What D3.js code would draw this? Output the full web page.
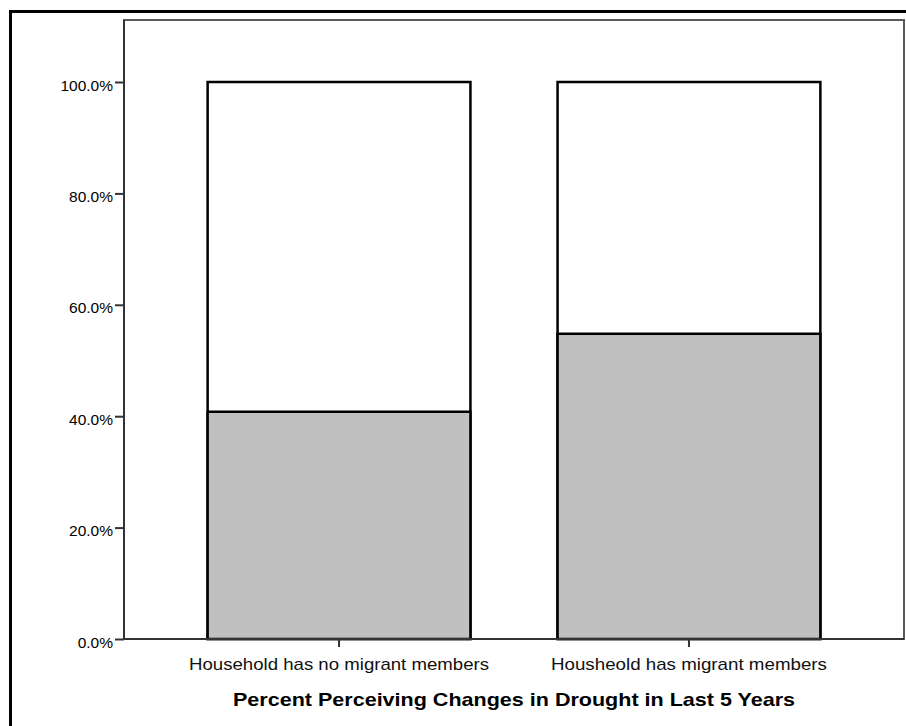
<!DOCTYPE html>
<html>
<head>
<meta charset="utf-8">
<script src="https://cdn.jsdelivr.net/npm/d3@7"></script>
<style>
  html, body { margin: 0; padding: 0; background: #fff; }
  svg { display: block; font-family: Arial, "Liberation Sans", sans-serif; }
</style>
</head>
<body>
<svg id="chart" width="906" height="726"></svg>
<script>
const categories = ["Household has no migrant members", "Housheold has migrant members"];
const perceivedValues = [40.8, 54.8];
const totalValues = [100, 100];
const yTickValues = [0, 20, 40, 60, 80, 100];
const xAxisTitle = "Percent Perceiving Changes in Drought in Last 5 Years";

const svg = d3.select("#chart");
const plot = { left: 124, right: 904, top: 20, bottom: 639 };

// outer frame
svg.append("rect").attr("x", 10.5).attr("y", 11.5).attr("width", 906).attr("height", 730)
  .attr("fill", "none").attr("stroke", "#000").attr("stroke-width", 3);

const y = d3.scaleLinear().domain([0, 100]).range([plot.bottom, 82]);
const x = d3.scaleBand().domain(categories).range([plot.left, plot.right])
  .paddingInner(0.249).paddingOuter(0.239);

// plot frame
svg.append("rect").attr("x", plot.left).attr("y", plot.top)
  .attr("width", plot.right - plot.left).attr("height", plot.bottom - plot.top)
  .attr("fill", "#fff").attr("stroke", "#5a5a5a").attr("stroke-width", 2);

// total (white) bars
svg.append("g").selectAll("rect").data(categories).join("rect")
  .attr("x", d => x(d)).attr("width", x.bandwidth())
  .attr("y", (d, i) => y(totalValues[i])).attr("height", (d, i) => y(0) - y(totalValues[i]))
  .attr("fill", "#fff").attr("stroke", "#000").attr("stroke-width", 2.5);

// perceived (gray) bars
svg.append("g").selectAll("rect").data(categories).join("rect")
  .attr("x", d => x(d)).attr("width", x.bandwidth())
  .attr("y", (d, i) => y(perceivedValues[i])).attr("height", (d, i) => y(0) - y(perceivedValues[i]))
  .attr("fill", "#c0c0c0").attr("stroke", "#000").attr("stroke-width", 2.5);

// y axis
const yAxis = svg.append("g").attr("transform", `translate(${plot.left},0)`)
  .call(d3.axisLeft(y).tickValues(yTickValues).tickSize(9).tickPadding(2)
    .tickFormat(d => d3.format(".1f")(d) + "%"));
yAxis.select(".domain").remove();
yAxis.selectAll(".tick line").attr("stroke", "#333").attr("stroke-width", 2);
yAxis.selectAll("text").attr("font-size", 15.5).attr("fill", "#000")
  .attr("font-family", "Arial, 'Liberation Sans', sans-serif")
  .attr("dy", 8);
svg.append("line").attr("x1", plot.left).attr("x2", plot.left)
  .attr("y1", plot.top).attr("y2", plot.bottom).attr("stroke", "#333").attr("stroke-width", 2);

// x axis
const catWidths = [300, 276];
const xAxis = svg.append("g").attr("transform", `translate(0,${plot.bottom})`)
  .call(d3.axisBottom(x).tickSize(8).tickPadding(6));
xAxis.select(".domain").remove();
xAxis.selectAll(".tick line").attr("stroke", "#333").attr("stroke-width", 2);
xAxis.selectAll("text").attr("font-size", 17).attr("fill", "#111")
  .attr("font-family", "Arial, 'Liberation Sans', sans-serif")
  .attr("dy", null).attr("y", 31)
  .attr("textLength", (d, i) => catWidths[i]).attr("lengthAdjust", "spacingAndGlyphs");
svg.append("line").attr("x1", plot.left).attr("x2", plot.right)
  .attr("y1", plot.bottom).attr("y2", plot.bottom).attr("stroke", "#333").attr("stroke-width", 2);

// x title
svg.append("text").attr("x", 514).attr("y", 706)
  .attr("text-anchor", "middle").attr("font-size", 19).attr("font-weight", "bold")
  .attr("textLength", 562).attr("lengthAdjust", "spacingAndGlyphs")
  .attr("fill", "#000").text(xAxisTitle);
</script>
</body>
</html>
